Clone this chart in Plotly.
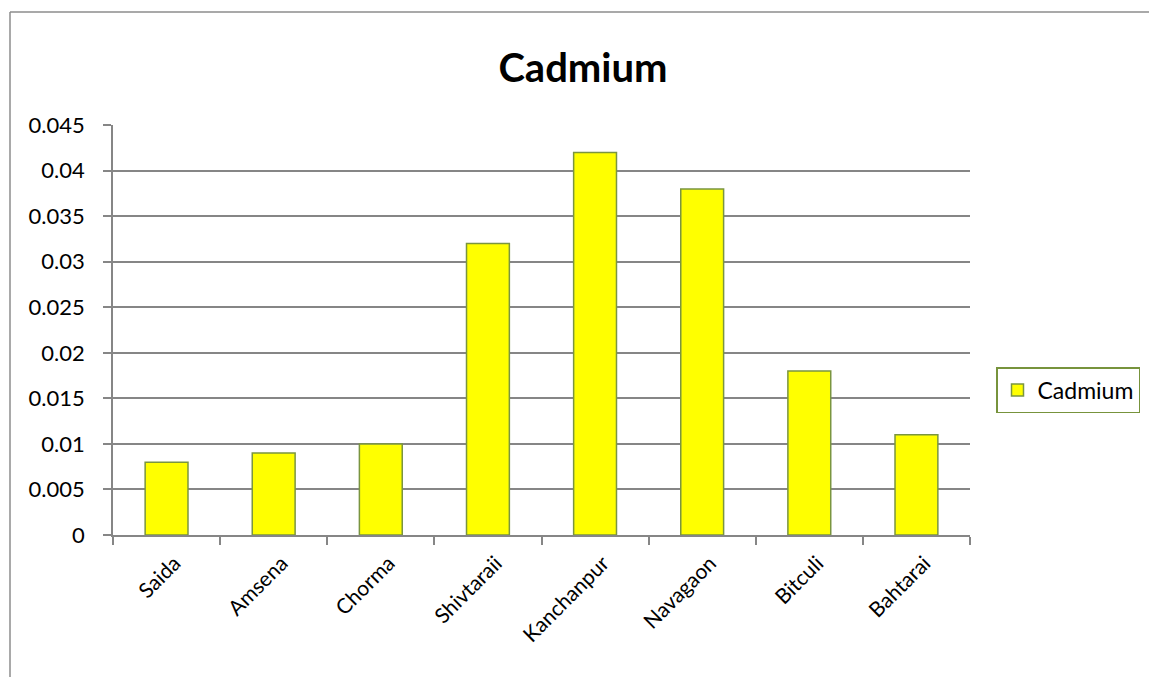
import plotly.graph_objects as go

# Cadmium concentration by sampling site
sites = ["Saida", "Amsena", "Chorma", "Shivtaraii", "Kanchanpur", "Navagaon", "Bitculi", "Bahtarai"]
cadmium = [0.008, 0.009, 0.010, 0.032, 0.042, 0.038, 0.018, 0.011]

y_ticks = [0, 0.005, 0.01, 0.015, 0.02, 0.025, 0.03, 0.035, 0.04, 0.045]
y_tick_labels = ["0", "0.005", "0.01", "0.015", "0.02", "0.025", "0.03", "0.035", "0.04", "0.045"]

FONT = "Lato, Calibri, Carlito, sans-serif"
GRID = "#868686"

W, H = 1149, 677
L, R, T, B = 113, 179, 125, 142
pw, ph = W - L - R, H - T - B

fig = go.Figure(
    go.Bar(
        x=sites,
        y=cadmium,
        name="Cadmium",
        width=0.4,
        marker=dict(color="#FFFF00", line=dict(color="#7A9540", width=1.5)),
    )
)

fig.update_layout(
    width=W,
    height=H,
    margin=dict(l=L, r=R, t=T, b=B, autoexpand=False),
    paper_bgcolor="white",
    plot_bgcolor="white",
    font=dict(family=FONT, size=20, color="black"),
    title=dict(
        text="<b>Cadmium</b>",
        x=583 / W,
        xanchor="center",
        y=1 - 68 / H,
        yanchor="middle",
        font=dict(family=FONT, size=40, color="black"),
    ),
    showlegend=True,
    legend=dict(
        x=(996 - L) / pw,
        y=(T - 390) / ph + 1,
        xanchor="left",
        yanchor="middle",
        bordercolor="#77933C",
        borderwidth=1.5,
        bgcolor="white",
        font=dict(family=FONT, size=23, color="black"),
        itemwidth=30,
    ),
    bargap=0.6,
)

fig.update_xaxes(
    automargin=False,
    showgrid=False,
    showline=True,
    linecolor=GRID,
    linewidth=1.5,
    ticks="outside",
    tickson="boundaries",
    ticklen=8,
    tickcolor=GRID,
    tickwidth=1.5,
    tickangle=-45,
    ticklabelstandoff=6,
    ticklabelshift=8,
    tickfont=dict(family=FONT, size=21, color="black"),
)

fig.update_yaxes(
    automargin=False,
    range=[0, 0.04502],
    tickvals=y_ticks,
    ticktext=y_tick_labels,
    showgrid=True,
    gridcolor=GRID,
    gridwidth=1.5,
    showline=True,
    linecolor=GRID,
    linewidth=1.5,
    ticks="outside",
    ticklen=8,
    tickcolor=GRID,
    tickwidth=1.5,
    ticklabelstandoff=14,
    tickfont=dict(family=FONT, size=22, color="black"),
    zeroline=False,
)

# Outer chart frame (left and top edges)
x_left = (10 - L) / pw
y_top = 1 + (T - 12) / ph
y_bottom = 1 + (T - H - 5) / ph
x_right = 1 + (W + 5 - L - pw) / pw
fig.add_shape(type="line", xref="paper", yref="paper", x0=x_left, x1=x_left,
              y0=y_bottom, y1=y_top, line=dict(color="#8C8C8C", width=1.5))
fig.add_shape(type="line", xref="paper", yref="paper", x0=x_left, x1=x_right,
              y0=y_top, y1=y_top, line=dict(color="#8C8C8C", width=1.5))

fig.write_html("out.html")
